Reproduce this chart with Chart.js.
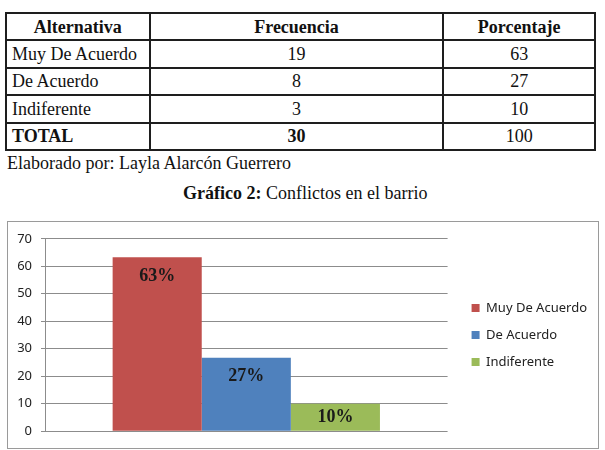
<!DOCTYPE html>
<html>
<head>
<meta charset="utf-8">
<script src="https://cdn.jsdelivr.net/npm/chart.js@4.4.1/dist/chart.umd.min.js"></script>
<style>
  body { margin: 0; width: 605px; height: 450px; background: #fff; overflow: hidden; position: relative; }
  table { position: absolute; left: 5px; top: 12px; width: 591px; border-collapse: collapse;
          font-family: "Liberation Serif", "Times New Roman", serif; font-size: 18px; color: #111; }
  td, th { border: 2px solid #1e1e1e; height: 25.4px; padding: 0 5px; line-height: 20px; }
  th { font-weight: bold; text-align: center; }
  td.c { text-align: center; }
  .txt { position: absolute; font-family: "Liberation Serif", "Times New Roman", serif; font-size: 18px;
         line-height: 20px; color: #111; white-space: nowrap; }
  #box { position: absolute; left: 7px; top: 221px; width: 592px; height: 228px; box-sizing: border-box;
         border: 1px solid #9a9a9a; }
  #wrap { position: relative; width: 590px; height: 226px; }
</style>
</head>
<body>
<table id="tabla"></table>
<div class="txt" style="left:7px; top:153px;">Elaborado por: Layla Alarcón Guerrero</div>
<div class="txt" style="left:183px; top:183px;"><b>Gráfico 2:</b> Conflictos en el barrio</div>
<div id="box"><div id="wrap"><canvas id="grafico"></canvas></div></div>

<script>
// datos de la tabla
const alternativas = ['Muy De Acuerdo', 'De Acuerdo', 'Indiferente'];
const frecuencias = [19, 8, 3];
const porcentajes = [63, 27, 10];
const totalFrecuencia = 30;
const totalPorcentaje = 100;

// datos del grafico
const valores = [63.3, 26.7, 10];
const etiquetas = ['63%', '27%', '10%'];
const colores = ['#C0504D', '#4F81BD', '#9BBB59'];

// tabla
let html = '<colgroup><col style="width:144px"><col style="width:295px"><col style="width:152px"></colgroup>';
html += '<tr><th>Alternativa</th><th>Frecuencia</th><th>Porcentaje</th></tr>';
for (let i = 0; i < alternativas.length; i++) {
    html += `<tr><td>${alternativas[i]}</td><td class="c">${frecuencias[i]}</td><td class="c">${porcentajes[i]}</td></tr>`;
}
html += `<tr><td><b>TOTAL</b></td><td class="c"><b>${totalFrecuencia}</b></td><td class="c">${totalPorcentaje}</td></tr>`;
document.getElementById('tabla').innerHTML = html;

// etiquetas dentro de las barras
const etiquetasBarras = {
    id: 'etiquetasBarras',
    afterDatasetsDraw(chart) {
        const ctx = chart.ctx;
        ctx.save();
        ctx.font = 'bold 18px "Liberation Serif", serif';
        ctx.fillStyle = '#1a1a1a';
        ctx.textAlign = 'center';
        ctx.textBaseline = 'middle';
        chart.data.datasets.forEach((ds, i) => {
            const bar = chart.getDatasetMeta(i).data[0];
            const y = Math.min(bar.y + 19, (bar.y + bar.base) / 2);
            ctx.fillText(etiquetas[i], bar.x, y);
        });
        ctx.restore();
    }
};

const datasets = alternativas.map((a, i) => ({
    label: a,
    data: [valores[i]],
    backgroundColor: colores[i],
    borderWidth: 0
}));

new Chart(document.getElementById('grafico'), {
    type: 'bar',
    data: { labels: [''], datasets: datasets },
    options: {
        responsive: true,
        maintainAspectRatio: false,
        animation: false,
        layout: { padding: { left: 0, top: 16, bottom: 16, right: 1 } },
        datasets: { bar: { categoryPercentage: 0.664, barPercentage: 1 } },
        scales: {
            x: { display: false },
            y: {
                min: 0, max: 70,
                ticks: { stepSize: 10, padding: 9, color: '#222', font: { family: 'Noto Sans', size: 13 } },
                grid: { color: '#8c8c8c', tickLength: 4 },
                border: { color: '#8c8c8c' },
                afterFit(s) { s.width = 37; }
            },
            y2: {
                position: 'right',
                grid: { display: false, drawTicks: false },
                border: { display: false },
                ticks: { display: false },
                afterFit(s) { s.width = 10; }
            }
        },
        plugins: {
            tooltip: { enabled: false },
            legend: {
                position: 'right',
                maxWidth: 160,
                labels: { boxWidth: 8, boxHeight: 8, padding: 14, color: '#222',
                          font: { family: 'Noto Sans', size: 13 } }
            }
        }
    },
    plugins: [etiquetasBarras]
});
</script>
</body>
</html>
